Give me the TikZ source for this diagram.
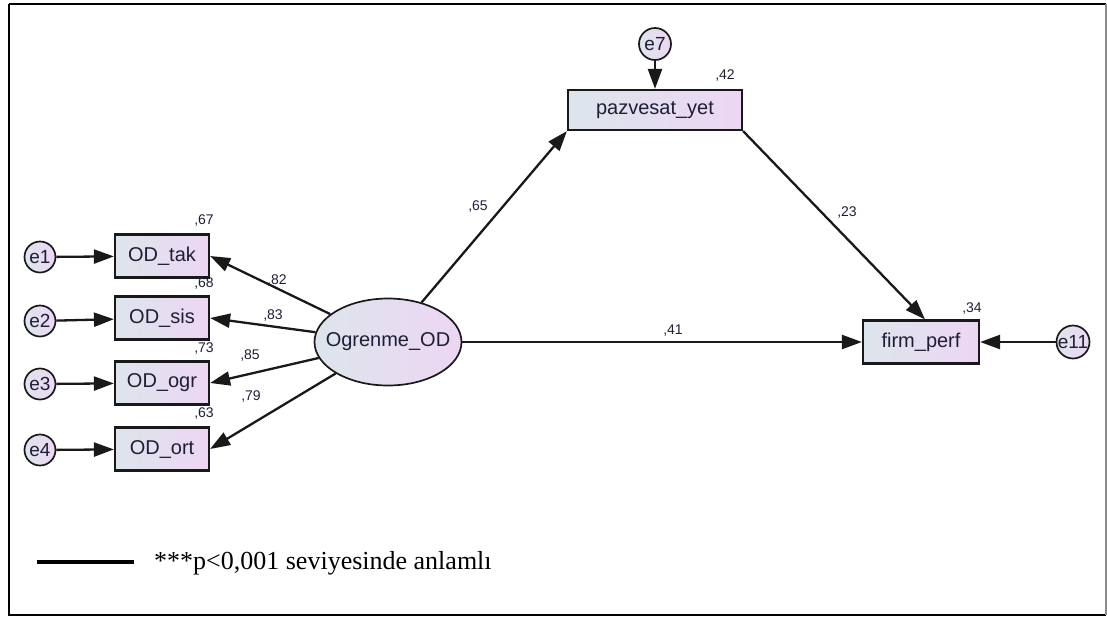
\documentclass[tikz,border=0pt]{standalone}
\usepackage{fontspec}
\setmainfont{Liberation Sans}
\newfontfamily\legendfont{Liberation Serif}
\usetikzlibrary{arrows.meta,shapes.geometric}
\definecolor{fillL}{HTML}{DDE5EC}
\definecolor{fillR}{HTML}{EDD6F3}
\definecolor{ink}{HTML}{1E1E36}
\tikzset{
  obs/.style={draw=black!90, line width=2.2pt, shading=axis, left color=fillL, right color=fillR,
    shading angle=90, minimum height=43pt, inner sep=0pt, text=ink,
    font=\fontsize{20}{22}\selectfont},
  err/.style={circle, draw=black!90, line width=1.7pt, left color=fillL, right color=fillR,
    minimum size=31pt, inner sep=0pt, text=ink, font=\fontsize{19}{21}\selectfont},
  lat/.style={ellipse, draw=black!90, line width=1.7pt, left color=fillL, right color=fillR,
    minimum width=147pt, minimum height=87pt, inner sep=0pt, text=ink,
    font=\fontsize{20}{22}\selectfont},
  coef/.style={text=ink, font=\fontsize{14}{16}\selectfont, inner sep=0pt},
  path/.style={draw=black!90, line width=2.3pt, -{Triangle[length=20pt,width=14pt]}},
}
\begin{document}
\begin{tikzpicture}[x=1pt,y=-1pt]
\useasboundingbox (0,0) rectangle (1107,619);
% outer frame
\draw[line width=2pt] (9,4) -- (1106,4);
\draw[line width=2pt] (9,4) -- (9,615) -- (1106,615);
\draw[line width=1.4pt, black!45] (1106,4) -- (1106,615);

% observed indicators
\node[obs, minimum width=94pt] (tak) at (162,256) {OD\_tak};
\node[obs, minimum width=94pt] (sis) at (162,318) {OD\_sis};
\node[obs, minimum width=94pt] (ogr) at (162,383) {OD\_ogr};
\node[obs, minimum width=94pt] (ort) at (162,449) {OD\_ort};
\node[obs, minimum width=174pt, minimum height=40pt] (paz) at (655,110) {pazvesat\_yet};
\node[obs, minimum width=116pt] (firm) at (921,342) {firm\_perf};

% latent construct (label boxed to zero width so the ellipse keeps its set size)
\node[lat] (og) at (388,342) {\makebox[0pt]{Ogrenme\_OD}};

% error terms
\node[err] (e1) at (40,257) {e1};
\node[err] (e2) at (40,321) {e2};
\node[err] (e3) at (40,384) {e3};
\node[err] (e4) at (40,450) {e4};
\node[err, minimum size=32pt] (e7) at (655,44) {e7};
\node[err] (e11) at (1073,342) {e11};

% paths
\draw[path] (e1) -- (tak);
\draw[path] (e2) -- (sis);
\draw[path] (e3) -- (ogr);
\draw[path] (e4) -- (ort);
\draw[path] (e7) -- (paz);
\draw[path] (e11) -- (firm);
\draw[path] (og) -- (tak.east);
\draw[path] (og) -- (sis.east);
\draw[path] (og) -- (ogr.east);
\draw[path] (og) -- (ort.east);
\draw[path] (og) -- (paz.south west);
\draw[path] (paz.south east) -- ([xshift=4pt]firm.north);
\draw[path] (og) -- (firm);

% estimates
\node[coef] (r1) at (204,221) {,67};
\node[coef] (r2) at (204,283) {,68};
\node[coef] (r3) at (204,348) {,73};
\node[coef] (r4) at (204,413) {,63};
\node[coef] (l1) at (277,280) {,82};
\node[coef] (l2) at (273,315) {,83};
\node[coef] (l3) at (250,355) {,85};
\node[coef] (l4) at (251,396) {,79};
\node[coef] (b1) at (478,207) {,65};
\node[coef] (r7) at (725,76) {,42};
\node[coef] (b2) at (847,213) {,23};
\node[coef] (b3) at (673,331) {,41};
\node[coef] (r11) at (972,308) {,34};

% legend
\coordinate (lg1) at (37,562);
\coordinate (lg2) at (134,562);
\draw[line width=3.5pt] (lg1) -- (lg2);
\node[anchor=west, inner sep=0pt, font=\legendfont\fontsize{26}{29}\selectfont] (leg) at (154,563) {***p<0,001 seviyesinde anlamlı};
\end{tikzpicture}
\end{document}
